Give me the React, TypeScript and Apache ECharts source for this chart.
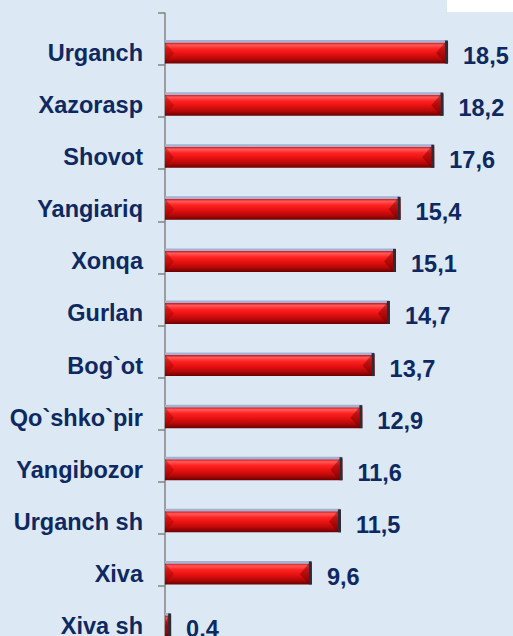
import React, { useEffect, useRef } from "react";
import * as echarts from "echarts";

const categories = [
  "Urganch",
  "Xazorasp",
  "Shovot",
  "Yangiariq",
  "Xonqa",
  "Gurlan",
  "Bog`ot",
  "Qo`shko`pir",
  "Yangibozor",
  "Urganch sh",
  "Xiva",
  "Xiva sh",
];
const values = [18.5, 18.2, 17.6, 15.4, 15.1, 14.7, 13.7, 12.9, 11.6, 11.5, 9.6, 0.4];

const FONT = "'Liberation Sans', Arial, sans-serif";
const TEXT = "#0e2862";

export default function App() {
  const ref = useRef<HTMLDivElement>(null);
  useEffect(() => {
    if (!ref.current) return;
    const chart = echarts.init(ref.current, null, { renderer: "svg" });
    const barH = 21;
    chart.setOption({
      animation: false,
      backgroundColor: "#dce8f4",
      graphic: [
        { type: "rect", shape: { x: 447, y: 0, width: 66, height: 12 }, style: { fill: "#ffffff" }, z: 100 },
      ],
      grid: [
        { left: 165, top: 13, width: 306, height: 625 },
        { left: 165, top: 27, width: 306, height: 625 },
      ],
      xAxis: [
        { type: "value", gridIndex: 0, min: 0, max: 20, show: false },
        { type: "value", gridIndex: 1, min: 0, max: 20, show: false },
      ],
      yAxis: [
        {
          type: "category",
          gridIndex: 0,
          data: categories,
          inverse: true,
          axisLine: { show: true, lineStyle: { color: "#858585", width: 1.5 } },
          axisTick: { show: true, length: 7, lineStyle: { color: "#858585", width: 1.5 } },
          axisLabel: { show: false },
        },
        {
          type: "category",
          gridIndex: 1,
          data: categories,
          inverse: true,
          axisLine: { show: false },
          axisTick: { show: false },
          axisLabel: {
            show: true,
            margin: 22,
            fontFamily: FONT,
            fontWeight: "bold",
            fontSize: 23.5,
            color: TEXT,
            verticalAlign: "middle",
            padding: [0, 0, 3, 0],
          },
        },
      ],
      series: [
        {
          type: "bar",
          xAxisIndex: 1,
          yAxisIndex: 1,
          data: values,
          barWidth: barH,
          itemStyle: {
            color: new echarts.graphic.LinearGradient(0, 0, 0, 1, [
              { offset: 0, color: "#c81414" },
              { offset: 0.12, color: "#ff5a5a" },
              { offset: 0.3, color: "#ff2222" },
              { offset: 0.55, color: "#e41010" },
              { offset: 0.8, color: "#b00808" },
              { offset: 1, color: "#6a0000" },
            ]),
          },
          label: {
            show: true,
            position: "right",
            distance: 15,
            offset: [0, 3],
            fontFamily: FONT,
            fontWeight: "bold",
            fontSize: 23.5,
            color: TEXT,
            formatter: (p: any) => String(p.value).replace(".", ","),
          },
          z: 2,
        },
        {
          type: "custom",
          xAxisIndex: 1,
          yAxisIndex: 1,
          data: values.map((v, i) => [v, i]),
          z: 3,
          silent: true,
          renderItem: (params: any, api: any) => {
            const end = api.coord([api.value(0), api.value(1)]);
            const start = api.coord([0, api.value(1)]);
            const x0 = start[0];
            const x1 = end[0];
            const yTop = end[1] - barH / 2;
            const yBot = end[1] + barH / 2;
            const yMid = end[1];
            const w = x1 - x0;
            const bev = Math.min(9, w / 2);
            return {
              type: "group",
              children: [
                {
                  type: "rect",
                  shape: { x: x0, y: yTop - 2.5, width: Math.max(w - 1, 0), height: 2.5 },
                  style: { fill: "#a3b2d4" },
                },
                {
                  type: "polygon",
                  shape: { points: [[x0, yTop], [x0 + bev, yMid], [x0, yBot]] },
                  style: { fill: "rgba(140,0,0,0.35)" },
                },
                {
                  type: "polygon",
                  shape: { points: [[x1 - 3, yTop], [x1 - 3 - bev, yMid], [x1 - 3, yBot]] },
                  style: { fill: "rgba(110,0,0,0.45)" },
                },
                {
                  type: "rect",
                  shape: { x: x1 - 3, y: yTop - 2, width: 3, height: barH + 2 },
                  style: { fill: "#2c2c38" },
                },
              ],
            };
          },
        },
      ],
    });
    return () => chart.dispose();
  }, []);
  return (
    <div
      ref={ref}
      style={{ position: "fixed", left: 0, top: 0, width: 513, height: 680 }}
    />
  );
}
